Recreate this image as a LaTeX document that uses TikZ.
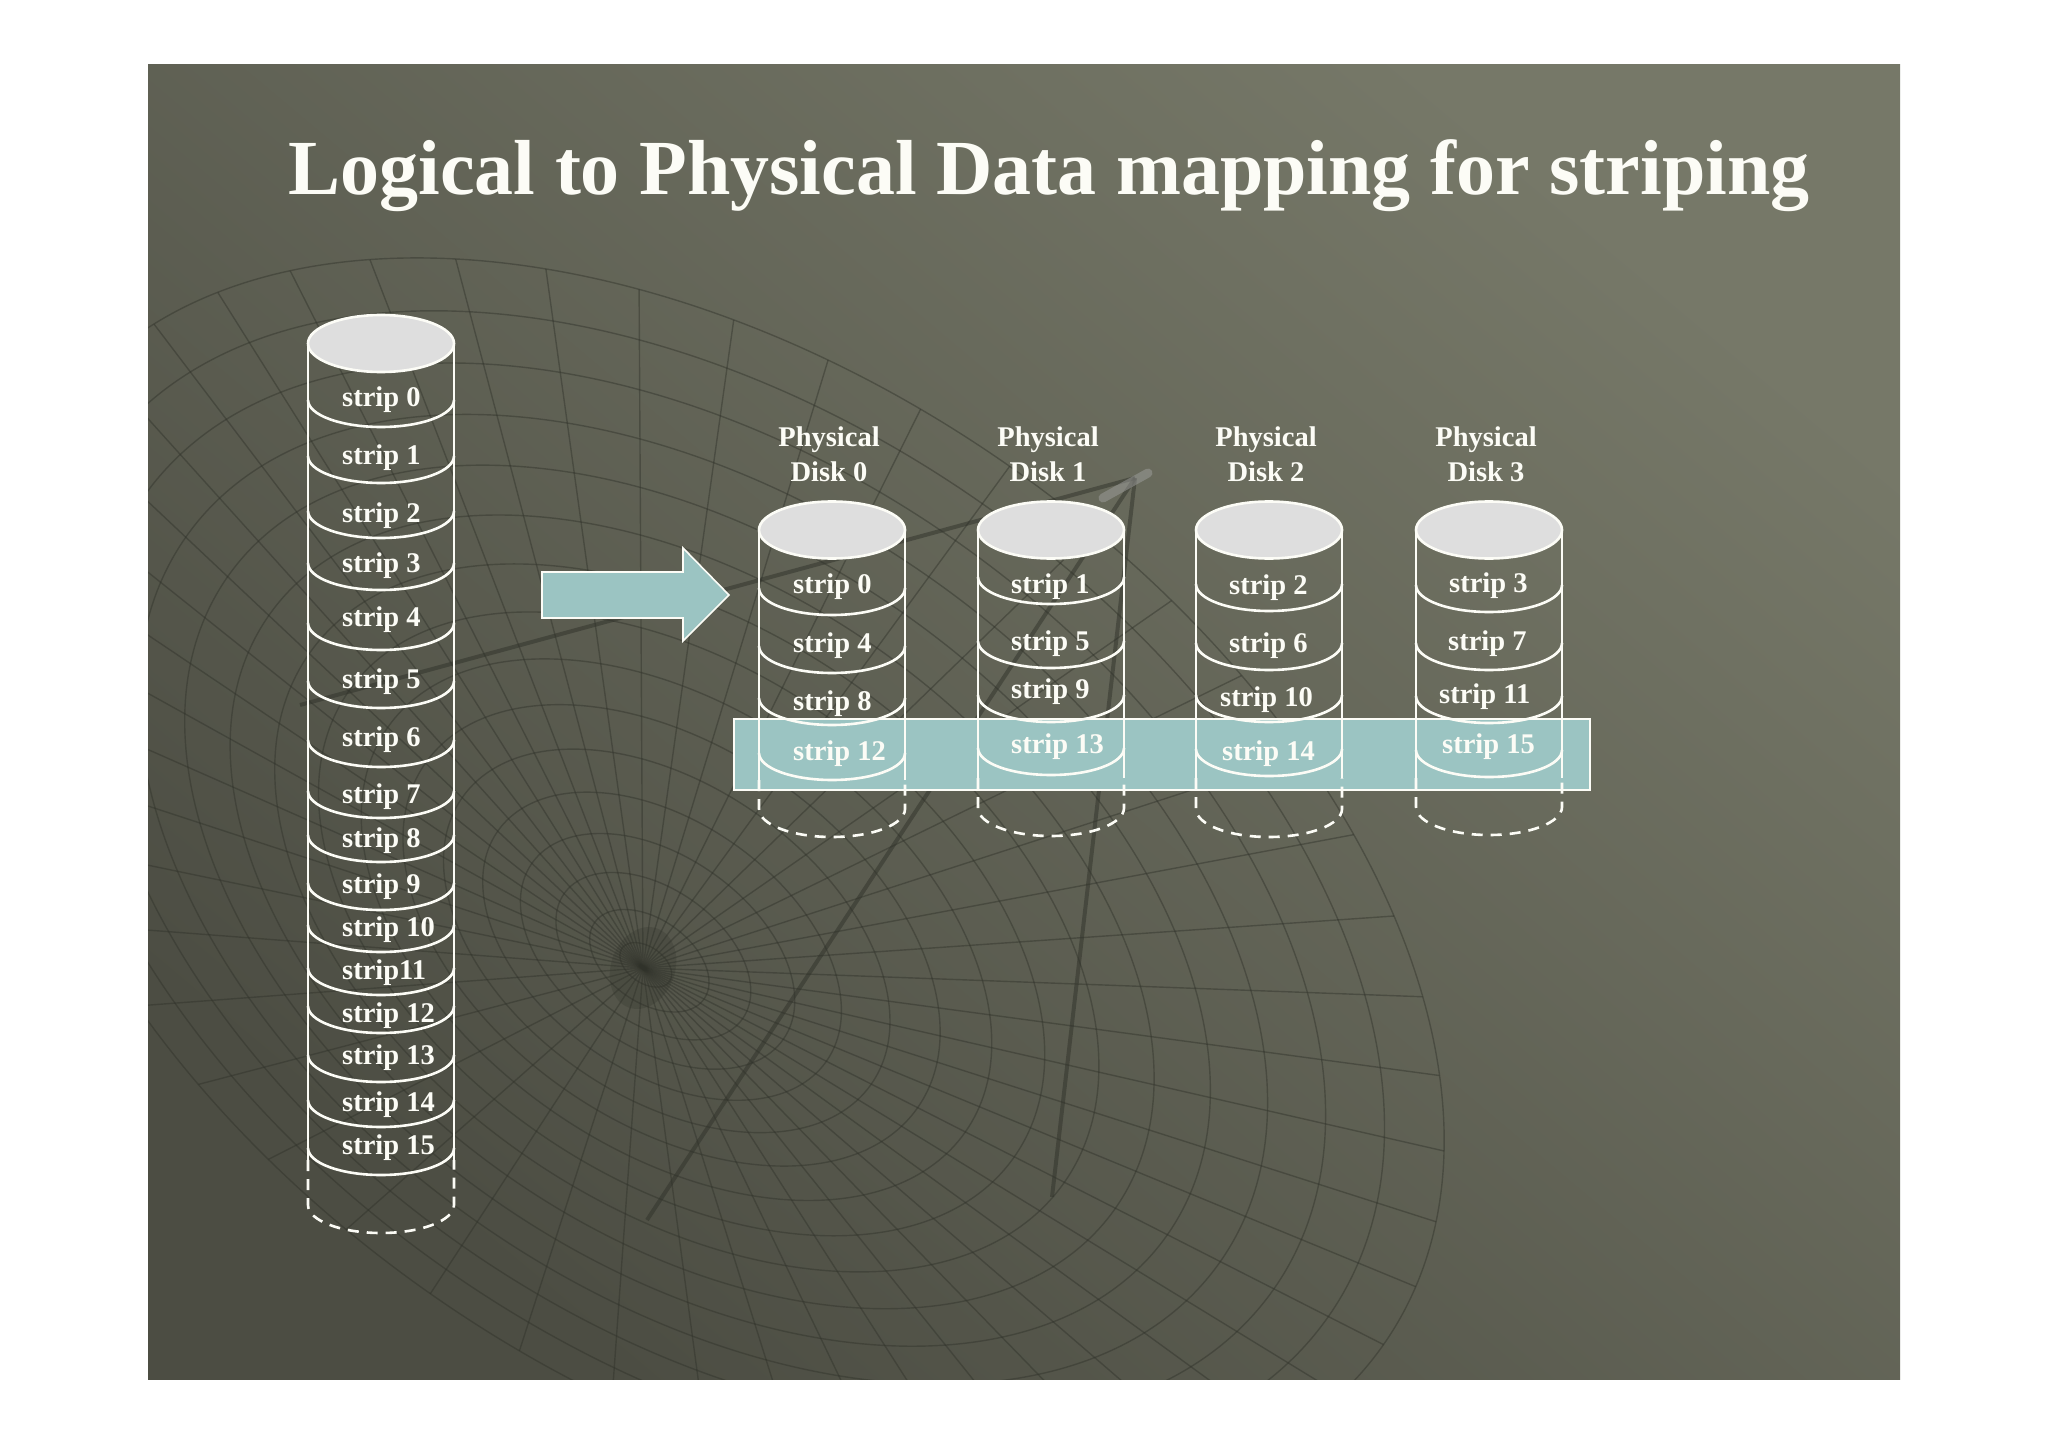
\documentclass[tikz,border=0pt]{standalone}
\usepackage{fontspec}
\setmainfont{Liberation Serif}
\usetikzlibrary{positioning,shapes.geometric}

\definecolor{slidetop}{RGB}{118,120,104}
\definecolor{slidebottom}{RGB}{76,77,67}
\definecolor{dishline}{RGB}{48,50,42}
\definecolor{aqua}{RGB}{155,196,194}
\definecolor{platterfill}{RGB}{222,222,222}
\definecolor{chalk}{RGB}{252,252,246}

\tikzset{
  wall/.style={chalk, line width=2.6pt},
  ghost/.style={chalk, line width=2.6pt, dash pattern=on 11pt off 8pt},
  platter/.style={ellipse, draw=chalk, fill=platterfill, line width=2.6pt,
    minimum width=146pt, minimum height=57pt, inner sep=0pt},
  striplabel/.style={text=chalk, font=\fontsize{28.5}{30}\selectfont\bfseries,
    inner sep=0pt, anchor=base west},
  diskname/.style={text=chalk, font=\fontsize{28.5}{35}\selectfont\bfseries,
    align=center, inner sep=0pt},
  headline/.style={text=chalk, font=\fontsize{78}{80}\selectfont\bfseries,
    inner sep=0pt, anchor=base},
  dish/.style={dishline, line width=1.4pt, opacity=0.45},
  mast/.style={dishline, line width=4pt, opacity=0.5},
}

% one stack of strips: #1 centre x, #2 top, #3 strip floors,
% #4 end of the solid wall, #5 centre of the dashed floor
\newcommand{\diskstack}[5]{%
  \draw[ghost] (#1-73,#4) -- (#1-73,#5) arc (180:0:73 and 28) -- (#1+73,#4);
  \draw[wall] (#1-73,#2) -- (#1-73,#4) (#1+73,#2) -- (#1+73,#4);
  \foreach \f in {#3} \draw[wall] (#1-73,\f-27) arc (180:0:73 and 27);
}

\begin{document}
\begin{tikzpicture}[x=1pt, y=-1pt]
\useasboundingbox (0,0) rectangle (2048,1447);
\fill[white] (0,0) rectangle (2048,1447);
\shade[top color=slidetop, bottom color=slidebottom, shading angle=-40] (148,65) rectangle (1900,1379);

% the dish in the background
\begin{scope}
  \clip (148,65) rectangle (1900,1379);
  \foreach \k in {1,...,16} {
    \pgfmathsetmacro{\t}{(\k/16)^1.2}
    \draw[dish, rotate around={-35:(643+77*\t,968-88*\t)}]
      (643+77*\t,968-88*\t) ellipse ({810*\t} and {505*\t});
  }
  \foreach \a in {0,7.5,...,352.5} {
    \pgfmathsetmacro{\ex}{720+810*cos(\a)*cos(35)-505*sin(\a)*sin(35)}
    \pgfmathsetmacro{\ey}{880+810*cos(\a)*sin(35)+505*sin(\a)*cos(35)}
    \draw[dish] (643,968) -- (\ex,\ey);
  }
  \fill[dishline, opacity=0.25, rotate around={-20:(643,968)}] (643,968) ellipse (32 and 42);
  \coordinate (feed) at (1135,478);
  \draw[mast] (feed) -- (300,705);
  \draw[mast] (feed) -- (647,1220);
  \draw[mast] (feed) -- (1052,1197);
  \draw[gray!70, line width=9pt, opacity=0.45, line cap=round] (1103,498) -- (1148,473);
\end{scope}

% row of strips held at the same offset on every disk
\fill[aqua, draw=chalk, line width=2pt] (734,719) rectangle (1590,790);

% the mapping arrow
\filldraw[fill=aqua, draw=chalk, line width=1.6pt]
  (542,572) -- (683,572) -- (683,548) -- (729,595) -- (683,641) -- (683,618) -- (542,618) -- cycle;

% logical disk
\diskstack{381}{343.5}{427,483,538,590,650,708,767,818,862,910,952,995,1033,1082,1127,1175}{1160}{1205}
\node[platter] (logical) at (381,343.5) {};
\foreach \txt/\b [count=\i from 0] in {strip 0/406, strip 1/464, strip 2/522, strip 3/572,
    strip 4/626, strip 5/688, strip 6/746, strip 7/803, strip 8/847, strip 9/893,
    strip 10/936, strip11/979, strip 12/1022, strip 13/1064, strip 14/1111, strip 15/1154}
  \node[striplabel] (lstrip\i) at (342,\b) {\txt};

% physical disks
\diskstack{832}{530}{615,673,725,780}{780}{809}
\diskstack{1051}{530}{604,668,722,775}{778}{808}
\diskstack{1269}{530}{611,670,722,776}{778}{809}
\diskstack{1489}{530}{612,670,723,777}{778}{807}
\foreach \n/\x in {0/832, 1/1051, 2/1269, 3/1489} {
  \node[platter] (disk\n) at (\x,530) {};
  \node[diskname, above=18pt of disk\n, xshift=-3pt] (name\n) {Physical\\Disk \n};
}
\foreach \k/\x/\b in {0/793/593, 4/793/652, 8/793/710, 12/793/760,
    1/1011/593, 5/1011/650, 9/1011/698, 13/1011/753,
    2/1229/594, 6/1229/652, 10/1220/706, 14/1222/760,
    3/1449/592, 7/1448/650, 11/1439/703, 15/1442/753}
  \node[striplabel] (pstrip\k) at (\x,\b) {strip \k};

\node[headline] (title) at (1049,195) {Logical to Physical Data mapping for striping};
\end{tikzpicture}
\end{document}
